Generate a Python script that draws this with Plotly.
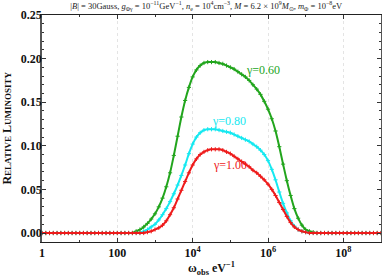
import numpy as np
import plotly.graph_objects as go

# log10(omega) sample grid, 0.0 .. 9.0 step 0.1
log_omega = [round(0.1 * i, 1) for i in range(91)]

# values (zeros outside listed bump ranges)
green_bump_start = 2.4
green_bump = [0.000, 0.002, 0.004, 0.007, 0.011, 0.016, 0.022, 0.030, 0.040, 0.053,
              0.069, 0.089, 0.111, 0.133, 0.152, 0.167, 0.179, 0.187, 0.192, 0.195,
              0.196, 0.196, 0.196, 0.195, 0.194, 0.192, 0.190, 0.188, 0.185, 0.182,
              0.179, 0.175, 0.170, 0.165, 0.159, 0.151, 0.142, 0.131, 0.117, 0.099,
              0.079, 0.060, 0.043, 0.028, 0.017, 0.009, 0.004, 0.002, 0.001, 0.000]
cyan_bump_start = 2.6
cyan_bump = [0.000, 0.002, 0.004, 0.007, 0.010, 0.015, 0.021, 0.028, 0.036, 0.045,
             0.055, 0.066, 0.078, 0.091, 0.102, 0.110, 0.115, 0.118, 0.119, 0.119,
             0.119, 0.118, 0.117, 0.116, 0.115, 0.113, 0.111, 0.109, 0.107, 0.105,
             0.102, 0.099, 0.095, 0.090, 0.083, 0.073, 0.061, 0.047, 0.034, 0.023,
             0.014, 0.008, 0.004, 0.002, 0.001, 0.000]
red_bump_start = 2.7
red_bump = [0.000, 0.001, 0.002, 0.004, 0.006, 0.009, 0.014, 0.021, 0.029, 0.039,
            0.049, 0.059, 0.069, 0.078, 0.085, 0.090, 0.093, 0.095, 0.096, 0.096,
            0.096, 0.095, 0.093, 0.091, 0.088, 0.085, 0.082, 0.079, 0.076, 0.072,
            0.069, 0.065, 0.061, 0.056, 0.050, 0.043, 0.035, 0.027, 0.019, 0.012,
            0.007, 0.004, 0.002, 0.001, 0.000]

gammas = ["0.60", "0.80", "1.00"]
colors = ["#22a51d", "#16e8f0", "#ee1c1c"]

x_ticks = [1, 100, 1e4, 1e6, 1e8]
x_tick_text = ["1", "100", "10<sup>4</sup>", "10<sup>6</sup>", "10<sup>8</sup>"]
x_minor = [10, 1e3, 1e5, 1e7, 1e9]
y_ticks = [0.00, 0.05, 0.10, 0.15, 0.20, 0.25]


def full_series(start, bump):
    i0 = int(round(start * 10))
    ys = [0.0] * len(log_omega)
    for k, v in enumerate(bump):
        if i0 + k < len(ys):
            ys[i0 + k] = v
    return ys


omega = [10 ** v for v in log_omega]
series = [full_series(green_bump_start, green_bump),
          full_series(cyan_bump_start, cyan_bump),
          full_series(red_bump_start, red_bump)]

fig = go.Figure()
for ys, c in zip(series, colors):
    fig.add_trace(go.Scatter(x=omega, y=ys, mode="lines+markers",
                             line=dict(color=c, width=2, shape="spline", smoothing=0.6),
                             marker=dict(color=c, size=3, symbol="cross-thin",
                                         line=dict(color=c, width=1)),
                             showlegend=False))

serif = "Liberation Serif, Times New Roman, serif"
label_pos = [(5.87, 0.187), (4.96, 0.128), (4.99, 0.078)]
for (lx, ly), g, c in zip(label_pos, gammas, colors):
    fig.add_annotation(x=lx, y=ly, text="γ=" + g, showarrow=False, xanchor="center",
                       font=dict(family=serif, size=12, color=c))

# axis titles as annotations for exact placement
fig.add_annotation(xref="paper", yref="paper", x=0.5, y=-0.115, yanchor="middle",
                   text="<b>ω<sub>obs</sub> eV<sup>−1</sup></b>", showarrow=False,
                   font=dict(family=serif, size=12, color="#111"))
fig.add_annotation(xref="paper", yref="paper", x=-0.106, y=0.5, xanchor="center",
                   textangle=-90,
                   text="<b>R<span style='font-size:9px'>ELATIVE</span> "
                        "L<span style='font-size:9px'>UMINOSITY</span></b>",
                   showarrow=False, font=dict(family=serif, size=12, color="#111"))

fig.update_layout(
    width=382, height=277,
    margin=dict(l=42, r=1, t=15, b=35),
    paper_bgcolor="white", plot_bgcolor="white",
    title=dict(text="|<i>B</i>| = 30Gauss, <i>g</i><sub>Φγ</sub> = 10<sup>−11</sup>GeV<sup>−1</sup>, "
                    "<i>n</i><sub>e</sub> = 10<sup>4</sup>cm<sup>−3</sup>, <i>M</i> = 6.2 × 10<sup>9</sup>"
                    "<i>M</i><sub>⊙</sub>, <i>m</i><sub>Φ</sub> = 10<sup>−8</sup>eV",
               x=0.54, xanchor="center", y=0.99, yanchor="top",
               font=dict(family=serif, size=8.5, color="#222")),
    xaxis=dict(type="log", range=[0, 9], tickmode="array", tickvals=x_ticks,
               ticktext=x_tick_text, ticks="inside", ticklen=4, tickcolor="#333",
               showline=True, linecolor="#222", linewidth=1, mirror="allticks",
               showgrid=True, gridcolor="#e4e4e4", griddash="dot", gridwidth=1,
               zeroline=False, automargin=False,
               tickfont=dict(family=serif, size=12, color="#111", weight="bold"),
               minor=dict(tickvals=x_minor, ticks="inside", ticklen=2, tickcolor="#333")),
    yaxis=dict(range=[-0.0103, 0.25], tickmode="array", tickvals=y_ticks,
               tickformat=".2f", ticks="inside", ticklen=4, tickcolor="#333",
               showline=True, linecolor="#555", linewidth=1.5, mirror="allticks",
               showgrid=False, zeroline=False, automargin=False,
               ticklabelstandoff=-4,
               tickfont=dict(family=serif, size=12, color="#111", weight="bold"),
               minor=dict(dtick=0.01, ticks="inside", ticklen=2, tickcolor="#333")),
)

fig.write_html("out.html", config={"displayModeBar": False},
               post_script="document.body.style.margin='0';document.body.style.padding='0';"
                           "document.documentElement.style.overflow='hidden';")
